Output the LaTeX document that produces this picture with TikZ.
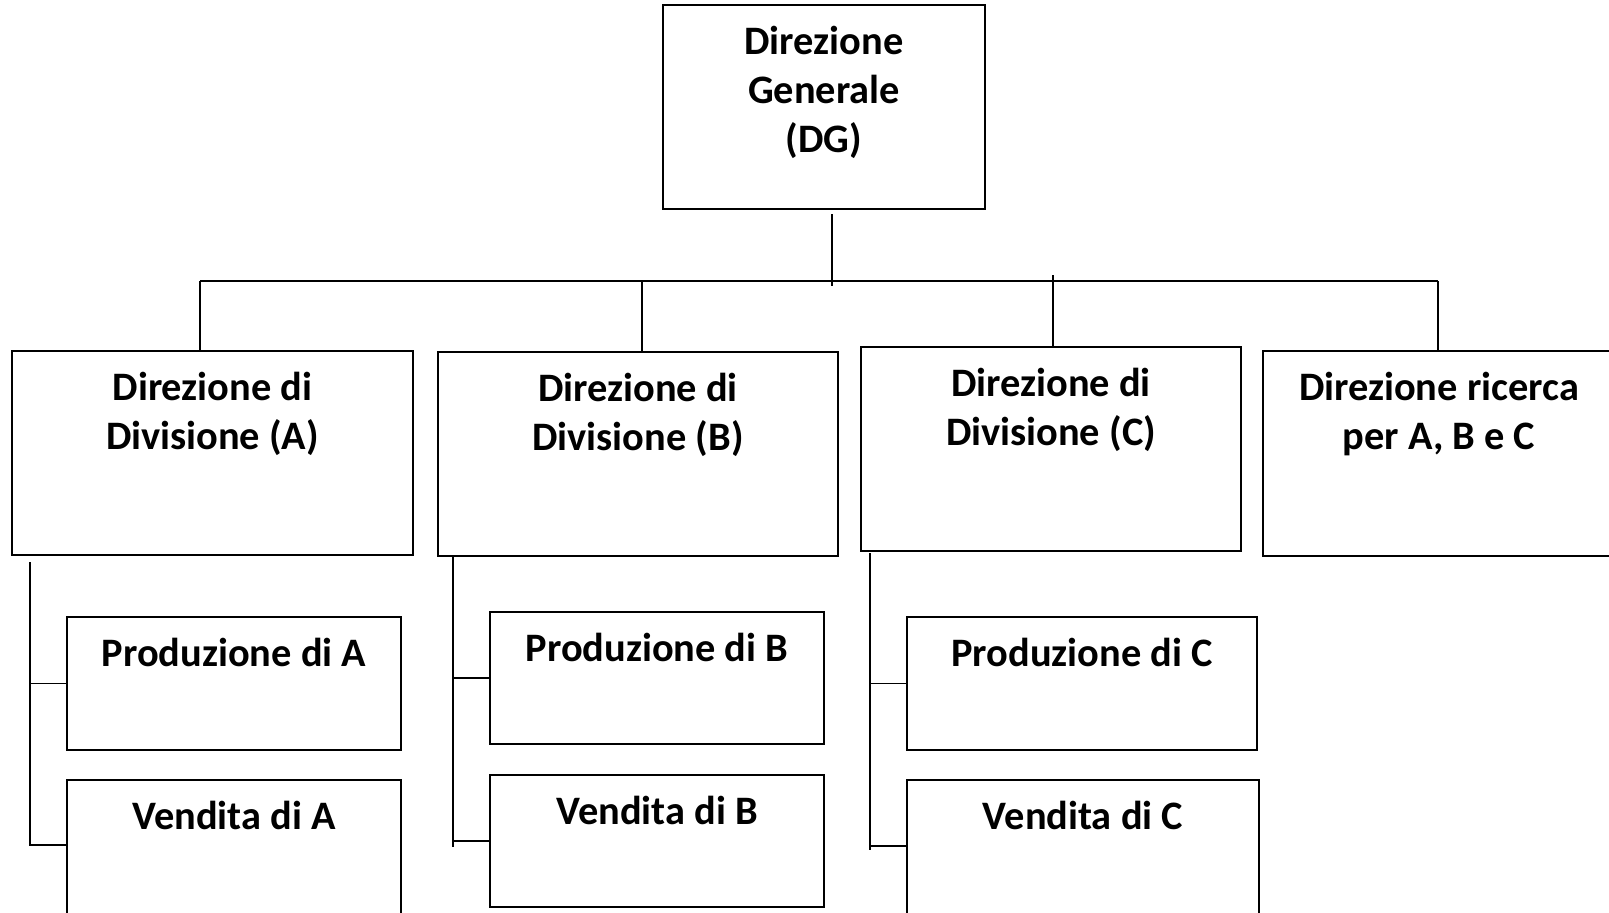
\documentclass[tikz,border=0pt]{standalone}
\usepackage{fontspec}
\setmainfont{Carlito}
\usetikzlibrary{fit,calc}
\begin{document}
\begin{tikzpicture}[x=0.5pt,y=-0.5pt,
  box/.style={draw, line width=1pt, inner sep=0pt},
  txt/.style={anchor=north, align=center, inner sep=0pt, font=\fontsize{20.2}{24.5}\selectfont\bfseries},
  link/.style={line width=0.8pt}]
\useasboundingbox (0,0) rectangle (1609,912);
\clip (0,0) rectangle (1609,912);
% boxes
\node[box, fit={(663,5)(985,209)}] (DG) {};
\node[box, fit={(12,351)(413,555)}] (A) {};
\node[box, fit={(438,352)(838,556)}] (B) {};
\node[box, fit={(861,347)(1241,551)}] (C) {};
\node[box, fit={(1263,351)(1615,556)}] (R) {};
\node[box, fit={(67,617)(401,750)}] (PA) {};
\node[box, fit={(67,780)(401,918)}] (VA) {};
\node[box, fit={(490,612)(824,744)}] (PB) {};
\node[box, fit={(490,775)(824,907)}] (VB) {};
\node[box, fit={(907,617)(1257,750)}] (PC) {};
\node[box, fit={(907,780)(1259,918)}] (VC) {};
% texts
\node[txt] (DGt) at ($(DG.north)+(0,22)$) {Direzione\\Generale\\(DG)};
\node[txt] (At) at ($(A.north)+(0,22)$) {Direzione di\\Divisione (A)};
\node[txt] (Bt) at ($(B.north)+(0,22)$) {Direzione di\\Divisione (B)};
\node[txt] (Ct) at ($(C.north)+(0,22)$) {Direzione di\\Divisione (C)};
\node[txt] (Rt) at ($(R.north)+(0,22)$) {Direzione ricerca\\per A, B e C};
\node[txt] (PAt) at ($(PA.north)+(0,22)$) {Produzione di A};
\node[txt] (VAt) at ($(VA.north)+(0,22)$) {Vendita di A};
\node[txt] (PBt) at ($(PB.north)+(0,22)$) {Produzione di B};
\node[txt] (VBt) at ($(VB.north)+(0,22)$) {Vendita di B};
\node[txt] (PCt) at ($(PC.north)+(0,22)$) {Produzione di C};
\node[txt] (VCt) at ($(VC.north)+(0,22)$) {Vendita di C};
% top connectors
\coordinate (dgs) at (832,214);
\coordinate (dge) at (832,286);
\draw[link] (dgs) -- (dge);
\coordinate (busA) at (200,281);
\coordinate (busB) at (642,281);
\coordinate (busC) at (1053,281);
\coordinate (busR) at (1438,281);
\draw[link] (busA) -- (busR);
\draw[link] (busA) -- (busA |- A.north);
\draw[link] (busB) -- (busB |- B.north);
\draw[link] ([yshift=3pt]busC) -- (busC |- C.north);
\draw[link] (busR) -- (busR |- R.north);
% division A
\coordinate (ta) at (30,562);
\coordinate (ba) at (30,845);
\draw[link] (ta) -- (ba) -- (ba -| VA.west);
\draw[link] (ta |- PA.west) -- (PA.west);
% division B
\coordinate (tb) at (453,556);
\coordinate (bb) at (453,847);
\draw[link] (tb) -- (bb);
\draw[link] (tb |- PB.west) -- (PB.west);
\draw[link] (tb |- VB.west) -- (VB.west);
% division C
\coordinate (tc) at (870,553);
\coordinate (bc) at (870,850);
\draw[link] (tc) -- (bc);
\draw[link] (tc |- PC.west) -- (PC.west);
\coordinate (vc) at (870,846);
\draw[link] (vc) -- (vc -| VC.west);
\end{tikzpicture}
\end{document}
